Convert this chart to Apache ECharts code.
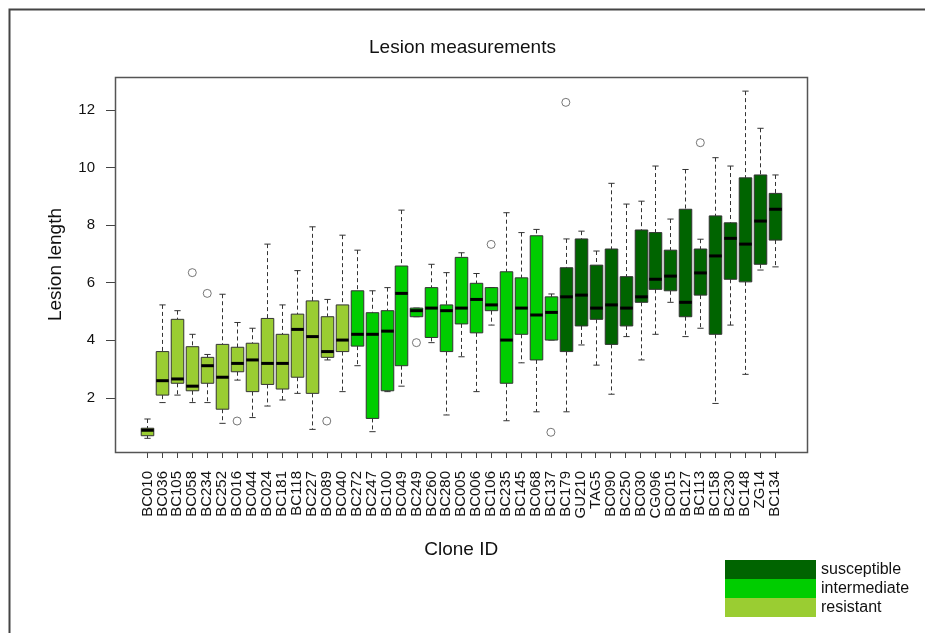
<!DOCTYPE html>
<html>
<head>
<meta charset="utf-8">
<script src="https://cdn.jsdelivr.net/npm/echarts@6/dist/echarts.min.js"></script>
<style>
  html, body { margin: 0; padding: 0; background: #fff; }
  #main { width: 925px; height: 633px; }
</style>
</head>
<body>
<div id="main"></div>
<script>
// clone groups, in plotting order
var resistant = ['BC010', 'BC036', 'BC105', 'BC058', 'BC234', 'BC252', 'BC016', 'BC044', 'BC024', 'BC181', 'BC118', 'BC227', 'BC089', 'BC040'];
var intermediate = ['BC272', 'BC247', 'BC100', 'BC049', 'BC249', 'BC260', 'BC280', 'BC005', 'BC006', 'BC106', 'BC235', 'BC145', 'BC068', 'BC137'];
var susceptible = ['BC179', 'GU210', 'TAG5', 'BC090', 'BC250', 'BC030', 'CG096', 'BC015', 'BC127', 'BC113', 'BC158', 'BC230', 'BC148', 'ZG14', 'BC134'];
var categories = resistant.concat(intermediate, susceptible);

// five-number summaries
var whiskerLow = [0.60, 1.84, 2.10, 1.84, 1.84, 1.12, 2.62, 1.32, 1.72, 1.93, 2.16, 0.91, 3.32, 2.22,
  3.12, 0.83, 2.22, 2.41, 4.82, 3.92, 1.41, 3.43, 2.22, 4.53, 1.21, 3.22, 1.52, 4.01,
  1.52, 3.84, 3.14, 2.13, 4.13, 3.32, 4.21, 5.32, 4.13, 4.42, 1.81, 4.53, 2.82, 6.44, 6.55];
var boxLow = [0.69, 2.10, 2.51, 2.25, 2.51, 1.61, 2.91, 2.22, 2.47, 2.31, 2.72, 2.16, 3.41, 3.61,
  3.80, 1.29, 2.25, 3.12, 4.82, 4.10, 3.61, 4.57, 4.26, 5.03, 2.51, 4.21, 3.32, 4.01,
  3.61, 4.50, 4.73, 3.86, 4.50, 5.32, 5.77, 5.72, 4.82, 5.57, 4.21, 6.12, 6.03, 6.64, 7.48];
var medians = [0.88, 2.60, 2.66, 2.41, 3.12, 2.72, 3.20, 3.32, 3.20, 3.20, 4.38, 4.13, 3.61, 4.01,
  4.21, 4.21, 4.32, 5.63, 5.03, 5.12, 5.03, 5.12, 5.42, 5.23, 4.01, 5.12, 4.88, 4.97,
  5.51, 5.57, 5.12, 5.23, 5.12, 5.51, 6.12, 6.23, 5.32, 6.34, 6.93, 7.54, 7.34, 8.14, 8.55];
var boxHigh = [0.95, 3.61, 4.73, 3.78, 3.41, 3.86, 3.76, 3.90, 4.76, 4.21, 4.91, 5.37, 4.82, 5.23,
  5.72, 4.96, 5.03, 6.58, 5.12, 5.83, 5.23, 6.88, 5.98, 5.83, 6.38, 6.17, 7.63, 5.51,
  6.52, 7.52, 6.61, 7.17, 6.21, 7.83, 7.74, 7.13, 8.55, 7.17, 8.32, 8.08, 9.64, 9.74, 9.10];
var whiskerHigh = [1.27, 5.23, 5.03, 4.21, 3.51, 5.60, 4.62, 4.42, 7.34, 5.23, 6.42, 7.94, 5.42, 7.65,
  7.13, 5.72, 5.83, 8.52, 5.12, 6.64, 6.35, 7.04, 6.32, 5.83, 8.43, 7.74, 7.85, 5.61,
  7.52, 7.79, 7.10, 9.45, 8.73, 8.83, 10.05, 8.21, 9.93, 7.51, 10.34, 10.05, 12.65, 11.36, 9.74];

var outliers = [['BC058', 6.35], ['BC234', 5.63], ['BC016', 1.20], ['BC089', 1.20], ['BC249', 3.92],
  ['BC106', 7.33], ['BC137', 0.81], ['BC179', 12.26], ['BC113', 10.86]];

var groupColors = { susceptible: '#006400', intermediate: '#00CD00', resistant: '#9ACD32' };
var yTicks = [2, 4, 6, 8, 10, 12];
var fontFamily = 'Liberation Sans, Arial, Helvetica, sans-serif';

function boxRows(names) {
  return names.map(function (name) {
    var i = categories.indexOf(name);
    return [i, whiskerLow[i], boxLow[i], medians[i], boxHigh[i], whiskerHigh[i]];
  });
}

// R-style box: dashed whiskers, half-width staples, thick median
function renderBox(params, api) {
  var x = api.value(0);
  var lo = api.coord([x, api.value(1)]);
  var q1 = api.coord([x, api.value(2)]);
  var md = api.coord([x, api.value(3)]);
  var q3 = api.coord([x, api.value(4)]);
  var hi = api.coord([x, api.value(5)]);
  var band = api.size([1, 0])[0];
  var bw = band * 0.84;
  var cw = bw / 2;
  var cx = Math.round(lo[0]) + 0.5;
  var dash = { stroke: '#333', lineWidth: 1, lineDash: [4, 3] };
  var solid = { stroke: '#333', lineWidth: 1 };
  return {
    type: 'group',
    children: [
      { type: 'line', shape: { x1: cx, y1: hi[1], x2: cx, y2: q3[1] }, style: dash },
      { type: 'line', shape: { x1: cx, y1: q1[1], x2: cx, y2: lo[1] }, style: dash },
      { type: 'line', shape: { x1: cx - cw / 2, y1: hi[1], x2: cx + cw / 2, y2: hi[1] }, style: solid },
      { type: 'line', shape: { x1: cx - cw / 2, y1: lo[1], x2: cx + cw / 2, y2: lo[1] }, style: solid },
      { type: 'rect', shape: { x: cx - bw / 2, y: q3[1], width: bw, height: q1[1] - q3[1] },
        style: { fill: api.visual('color'), stroke: '#333', lineWidth: 1 } },
      { type: 'line', shape: { x1: cx - bw / 2, y1: md[1], x2: cx + bw / 2, y2: md[1] },
        style: { stroke: '#000', lineWidth: 3 } }
    ]
  };
}

function boxSeries(name, names) {
  return {
    name: name,
    type: 'custom',
    renderItem: renderBox,
    itemStyle: { color: groupColors[name] },
    encode: { x: 0, y: [1, 2, 3, 4, 5] },
    data: boxRows(names),
    clip: false,
    silent: true
  };
}

var chart = echarts.init(document.getElementById('main'), null, { renderer: 'canvas' });

var option = {
  animation: false,
  backgroundColor: '#fff',
  textStyle: { fontFamily: fontFamily },
  title: {
    text: 'Lesion measurements',
    left: 'center',
    top: 33,
    textStyle: { fontSize: 19, fontWeight: 'normal', color: '#111', fontFamily: fontFamily }
  },
  legend: {
    orient: 'vertical',
    left: 725,
    top: 560,
    padding: 0,
    itemGap: 0,
    itemWidth: 91,
    itemHeight: 19,
    icon: 'rect',
    selectedMode: false,
    itemStyle: { borderWidth: 0 },
    textStyle: { fontSize: 16, color: '#111', lineHeight: 19, fontFamily: fontFamily },
    data: ['susceptible', 'intermediate', 'resistant']
  },
  grid: { left: 140, right: 142.5, top: 77, bottom: 181 },
  xAxis: {
    type: 'category',
    data: categories,
    boundaryGap: true,
    name: 'Clone ID',
    nameLocation: 'middle',
    nameGap: 88,
    nameTextStyle: { fontSize: 19, color: '#111', fontFamily: fontFamily },
    axisLine: { show: false },
    axisTick: { show: true, alignWithLabel: true, length: 6, lineStyle: { color: '#444' } },
    axisLabel: { interval: 0, rotate: 90, margin: 19, fontSize: 15, color: '#111', fontFamily: fontFamily },
    splitLine: { show: false }
  },
  yAxis: {
    type: 'value',
    min: 0.125,
    max: 13.14,
    offset: 25,
    name: 'Lesion length',
    nameLocation: 'middle',
    nameRotate: 90,
    nameGap: 50,
    nameTextStyle: { fontSize: 19, color: '#111', fontFamily: fontFamily },
    axisLine: { show: false },
    axisTick: { show: true, length: 9, customValues: yTicks, lineStyle: { color: '#444' } },
    axisLabel: { customValues: yTicks, margin: 20, fontSize: 15, color: '#111', fontFamily: fontFamily },
    splitLine: { show: false }
  },
  graphic: [
    { type: 'rect', shape: { x: 115.5, y: 77.5, width: 692, height: 375 },
      style: { fill: 'none', stroke: '#555', lineWidth: 1.5 }, silent: true, z: 10 },
    { type: 'polyline', shape: { points: [[9.5, 633], [9.5, 9.5], [925, 9.5]] },
      style: { fill: 'none', stroke: '#444', lineWidth: 2 }, silent: true }
  ],
  series: [
    boxSeries('resistant', resistant),
    boxSeries('intermediate', intermediate),
    boxSeries('susceptible', susceptible),
    {
      name: 'outliers',
      type: 'scatter',
      data: outliers,
      symbol: 'circle',
      symbolSize: 8,
      itemStyle: { color: '#fff', borderColor: '#555', borderWidth: 1 },
      silent: true,
      z: 5
    }
  ]
};

chart.setOption(option);
</script>
</body>
</html>
